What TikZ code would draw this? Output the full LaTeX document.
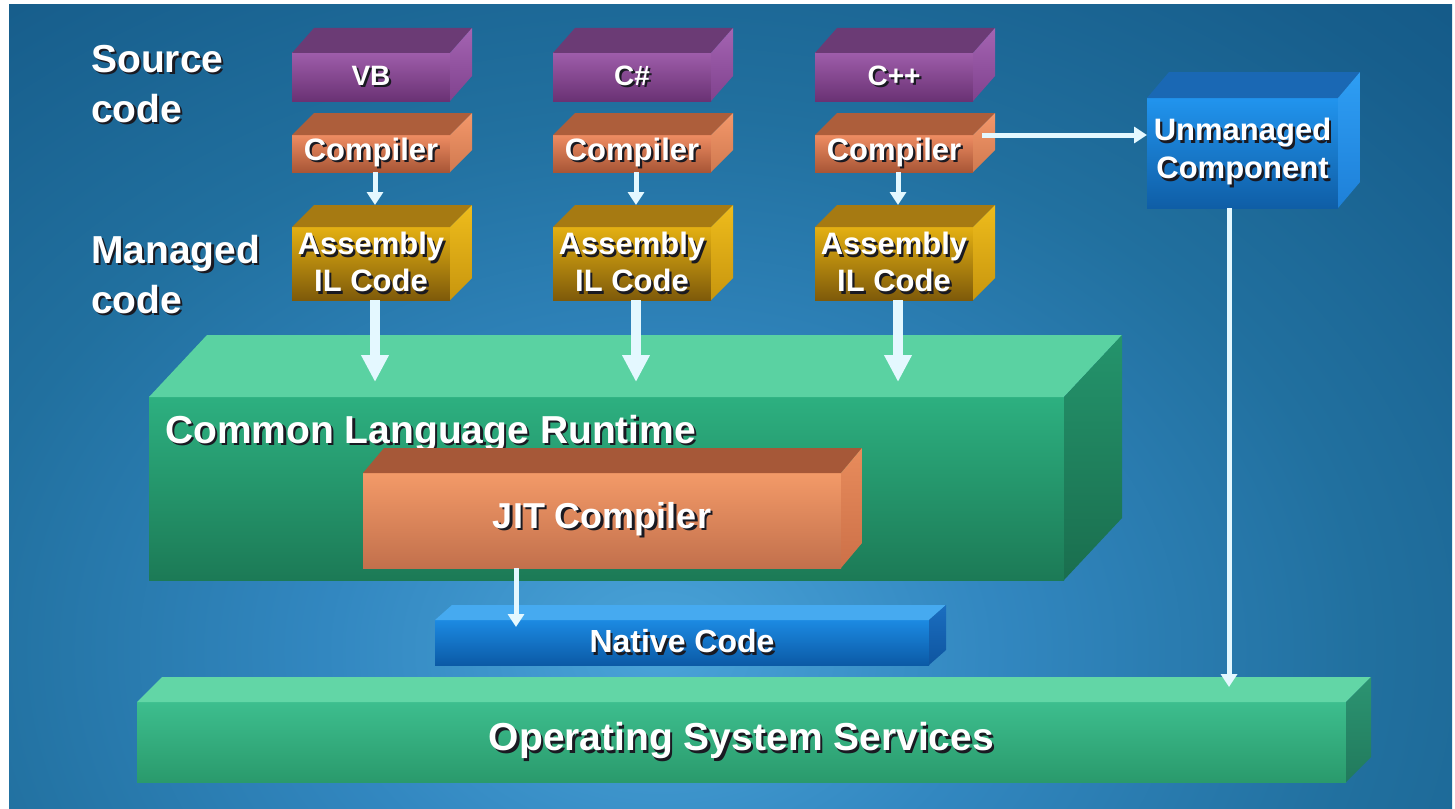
\documentclass[tikz,border=0pt]{standalone}
\usepackage{fontspec}
\setmainfont{Liberation Sans}
\usetikzlibrary{arrows.meta}

% backdrop
\definecolor{bglight}{HTML}{4AA3D8}
\definecolor{bgmid}{HTML}{3287C0}
\definecolor{bgmid2}{HTML}{21709F}
\definecolor{bgmid3}{HTML}{175E8C}
\definecolor{bgdark}{HTML}{0F5280}
\definecolor{arrowc}{HTML}{E4F8FF}
\definecolor{txtsh}{HTML}{1A1A22}
% slab palettes: F1/F2 front gradient, T top face, S1/S2 side gradient
\definecolor{purF1}{HTML}{9E5DAA}\definecolor{purF2}{HTML}{6A3274}
\definecolor{purT}{HTML}{6B3B75}\definecolor{purS1}{HTML}{A464B2}\definecolor{purS2}{HTML}{80428E}
\definecolor{cmpF1}{HTML}{EE8C62}\definecolor{cmpF2}{HTML}{A85636}
\definecolor{cmpT}{HTML}{AD5E3B}\definecolor{cmpS1}{HTML}{F4976A}\definecolor{cmpS2}{HTML}{D07A50}
\definecolor{asmF1}{HTML}{E4B012}\definecolor{asmF2}{HTML}{7E5A0A}
\definecolor{asmT}{HTML}{A67A12}\definecolor{asmS1}{HTML}{EEBC1C}\definecolor{asmS2}{HTML}{C8960E}
\definecolor{umgF1}{HTML}{2194EE}\definecolor{umgF2}{HTML}{0F5EA6}
\definecolor{umgT}{HTML}{1A68B4}\definecolor{umgS1}{HTML}{2E9EF4}\definecolor{umgS2}{HTML}{1E80D8}
\definecolor{clrF1}{HTML}{2DB080}\definecolor{clrF2}{HTML}{1C7A56}
\definecolor{clrT}{HTML}{5AD2A2}\definecolor{clrS1}{HTML}{24946C}\definecolor{clrS2}{HTML}{1A6E4E}
\definecolor{jitF1}{HTML}{F39A68}\definecolor{jitF2}{HTML}{C2704C}
\definecolor{jitT}{HTML}{A65838}\definecolor{jitS1}{HTML}{E88C5C}\definecolor{jitS2}{HTML}{CC7048}
\definecolor{natF1}{HTML}{1C8AE2}\definecolor{natF2}{HTML}{0B5AA6}
\definecolor{natT}{HTML}{46AAF0}\definecolor{natS1}{HTML}{1B6EC0}\definecolor{natS2}{HTML}{0E55A0}
\definecolor{ossF1}{HTML}{3DBE8E}\definecolor{ossF2}{HTML}{2A9A6C}
\definecolor{ossT}{HTML}{62D6A6}\definecolor{ossS1}{HTML}{2C9472}\definecolor{ossS2}{HTML}{217A5C}

\pgfdeclareradialshading{glow}{\pgfpointorigin}{color(0bp)=(bglight); color(6bp)=(bgmid); color(12.6bp)=(bgmid2); color(19bp)=(bgmid3); color(25.3bp)=(bgdark); color(50bp)=(bgdark)}

% white text with a dark drop shadow
\newcommand\shd[1]{\leavevmode\rlap{\kern2.2pt\raisebox{-2.2pt}{\textcolor{txtsh}{#1}}}#1}
% type size used inside the slabs that follow
\newcommand\slabsize{\fontsize{31}{37}\selectfont}

% 3-D slab: name, x, y, width, height, depth x, depth y, palette, text
\newcommand\slab[9]{%
  \node[face, minimum width=#4pt, minimum height=#5pt, top color=#8F1, bottom color=#8F2] (#1) at (#2,#3) {#9};
  \fill[#8T] (#1.north west) -- ++(#6,-#7) -- ([shift={(#6,-#7)}]#1.north east) -- (#1.north east) -- cycle;
  \shade[top color=#8S1, bottom color=#8S2] (#1.north east) -- ++(#6,-#7) -- ([shift={(#6,-#7)}]#1.south east) -- (#1.south east) -- cycle;
}

\tikzset{
  face/.style={anchor=north west, inner sep=0pt, outer sep=0pt, text=white, font=\bfseries\slabsize, align=center},
  lbl/.style={text=white, font=\bfseries\fontsize{39}{50}\selectfont, align=left, inner sep=0pt, anchor=north west},
  flow/.style={draw=arrowc, line width=5pt, -{Triangle[length=13pt,width=16pt]}},
  bigflow/.style={draw=arrowc, line width=10pt, -{Triangle[length=27pt,width=26pt]}},
}

\begin{document}
\begin{tikzpicture}[x=1pt,y=-1pt]
  \useasboundingbox (0,0) rectangle (1455,808);
  \fill[white] (0,0) rectangle (1455,808);
  \begin{scope}
    \clip (9,5) rectangle (1452,808);
    \fill[bgdark] (9,5) rectangle (1452,808);
    \shade[shading=glow] (660,650) ellipse (1400 and 1064);
  \end{scope}

  % row labels
  \node[lbl] (srclbl) at (91,45) {\shd{Source}\\\shd{code}};
  \node[lbl] (mgdlbl) at (91,235) {\shd{Managed}\\\shd{code}};

  % language columns
  \renewcommand\slabsize{\fontsize{28}{32}\selectfont}
  \slab{s1}{292}{53}{158}{48}{22}{25}{pur}{\shd{VB}}
  \slab{s2}{553}{53}{158}{48}{22}{25}{pur}{\shd{C\#}}
  \slab{s3}{815}{53}{158}{48}{22}{25}{pur}{\shd{C++}}

  \renewcommand\slabsize{\fontsize{31}{37}\selectfont}
  \slab{c1}{292}{135}{158}{37}{22}{22}{cmp}{\lower4pt\hbox{\shd{Compiler}}}
  \slab{c2}{553}{135}{158}{37}{22}{22}{cmp}{\lower4pt\hbox{\shd{Compiler}}}
  \slab{c3}{815}{135}{158}{37}{22}{22}{cmp}{\lower4pt\hbox{\shd{Compiler}}}

  \slab{a1}{292}{227}{158}{73}{22}{22}{asm}{\shd{Assembly}\\\shd{IL Code}}
  \slab{a2}{553}{227}{158}{73}{22}{22}{asm}{\shd{Assembly}\\\shd{IL Code}}
  \slab{a3}{815}{227}{158}{73}{22}{22}{asm}{\shd{Assembly}\\\shd{IL Code}}

  \renewcommand\slabsize{\fontsize{31}{38}\selectfont}
  \slab{um}{1147}{98}{191}{110}{22}{26}{umg}{\shd{Unmanaged}\\\shd{Component}}

  % runtime layers
  \slab{clr}{149}{397}{915}{183}{58}{62}{clr}{}
  \node[text=white, font=\bfseries\fontsize{39}{44}\selectfont, inner sep=0pt, anchor=base west] (clrlbl) at (165,443) {\shd{Common Language Runtime}};
  \renewcommand\slabsize{\fontsize{36}{40}\selectfont}
  \slab{jit}{363}{473}{478}{95}{21}{25}{jit}{\shd{JIT Compiler}}
  \renewcommand\slabsize{\fontsize{32}{36}\selectfont}
  \slab{nat}{435}{620}{494}{45}{17}{15}{nat}{\shd{Native Code}}
  \renewcommand\slabsize{\fontsize{39}{44}\selectfont}
  \slab{os}{137}{702}{1209}{80}{25}{25}{oss}{\shd{Operating System Services}}

  % connectors
  \coordinate (clrT) at ([yshift=15pt]clr.north);
  \foreach \i in {1,2,3} {
    \coordinate (co\i) at ([xshift=4pt]c\i.south);
    \coordinate (ai\i) at ([xshift=4pt,yshift=22pt]a\i.north);
    \draw[flow] (co\i) -- (ai\i);
    \coordinate (ao\i) at ([xshift=4pt]a\i.south);
    \draw[bigflow] (ao\i) -- (ao\i |- clrT);
  }
  \coordinate (cx) at ([xshift=9pt,yshift=18.5pt]c3.east);
  \draw[flow] (cx) -- (cx -| um.west);

  \coordinate (ud) at ([xshift=-13.5pt]um.south);
  \coordinate (osT) at ([yshift=15pt]os.north);
  \draw[flow] (ud) -- (ud |- osT);

  \coordinate (jd) at ([xshift=-86pt]jit.south);
  \coordinate (natT) at ([yshift=-7pt]nat.north);
  \draw[flow] (jd) -- (jd |- natT);
\end{tikzpicture}
\end{document}
